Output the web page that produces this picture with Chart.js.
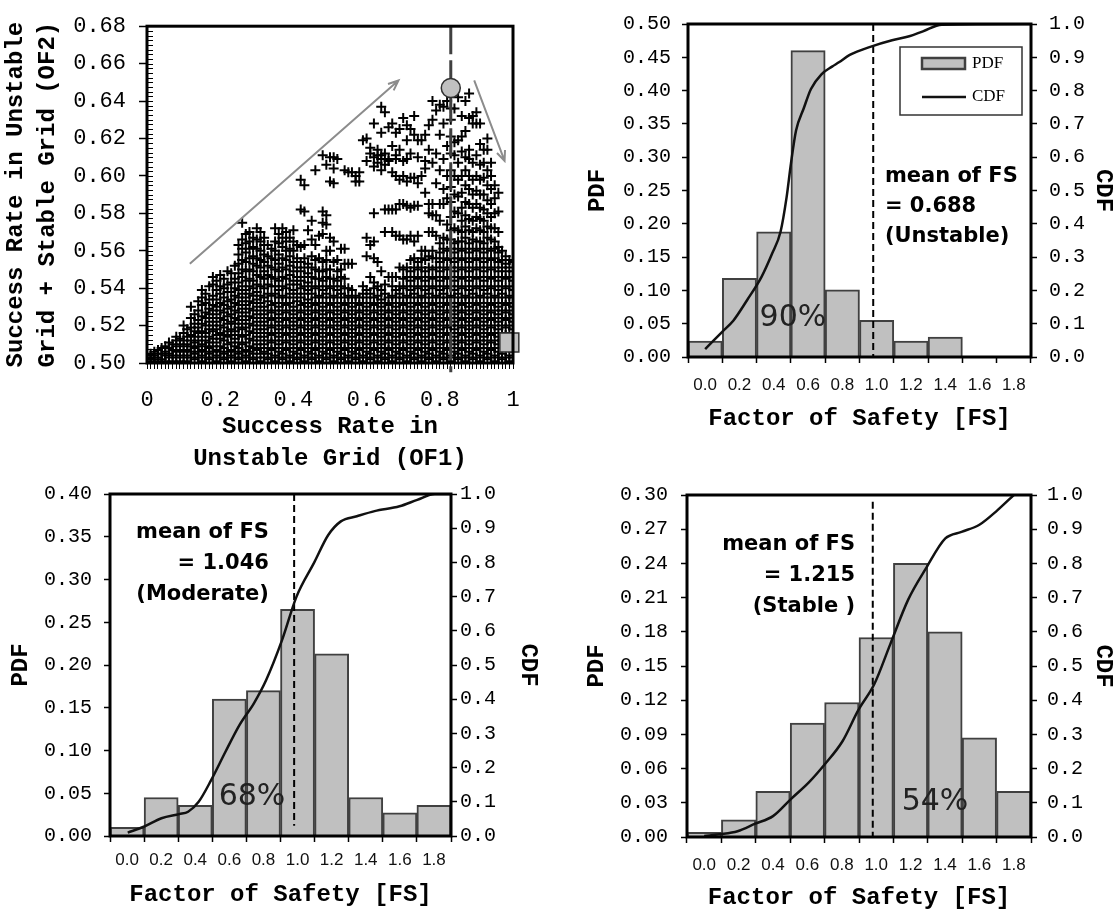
<!DOCTYPE html>
<html>
<head>
<meta charset="utf-8">
<title>Factor of safety distributions</title>
<script src="https://cdn.jsdelivr.net/npm/chart.js@4.4.1/dist/chart.umd.min.js"></script>
<style>
body { margin: 0; background: #fff; }
#page { position: relative; width: 1115px; height: 911px; overflow: hidden; }
canvas { position: absolute; }
</style>
</head>
<body>
<div id="page">
<canvas id="scatter" width="560" height="480" style="left:0;top:0"></canvas>
<canvas id="unstable" width="555" height="440" style="left:560px;top:0"></canvas>
<canvas id="moderate" width="540" height="441" style="left:0;top:470px"></canvas>
<canvas id="stable" width="555" height="441" style="left:560px;top:470px"></canvas>
</div>
<script>
var monoFont = "'Liberation Mono', 'Courier New', monospace";
var sansFont = "'Liberation Sans', Arial, sans-serif";
var noteFont = "'DejaVu Sans', Verdana, sans-serif";

// ---- histogram data ----
var binLabels = ['0.0', '0.2', '0.4', '0.6', '0.8', '1.0', '1.2', '1.4', '1.6', '1.8'];

var pdfUnstable = [0.024, 0.118, 0.188, 0.460, 0.101, 0.055, 0.024, 0.030, 0, 0];
var pdfModerate = [0.010, 0.045, 0.036, 0.160, 0.170, 0.265, 0.213, 0.045, 0.027, 0.036];
var pdfStable = [0.004, 0.015, 0.040, 0.100, 0.118, 0.175, 0.240, 0.180, 0.087, 0.040];

// cdf curves: FS value / cumulative probability
var cdfUnstableFS = [0.0, 0.098, 0.164, 0.246, 0.328, 0.39, 0.44, 0.475, 0.50, 0.53, 0.575, 0.617, 0.678, 0.74, 0.78, 0.843, 0.967, 1.09, 1.19, 1.27, 1.38, 1.9];
var cdfUnstable = [0.024, 0.075, 0.109, 0.172, 0.24, 0.31, 0.377, 0.48, 0.58, 0.68, 0.747, 0.805, 0.849, 0.872, 0.885, 0.907, 0.932, 0.951, 0.963, 0.978, 0.998, 1.0];

var cdfModerateFS = [0.004, 0.098, 0.202, 0.306, 0.358, 0.42, 0.494, 0.578, 0.66, 0.744, 0.816, 0.91, 0.994, 1.098, 1.18, 1.254, 1.348, 1.452, 1.598, 1.702, 1.806, 1.9];
var cdfModerate = [0.01, 0.027, 0.052, 0.064, 0.071, 0.10, 0.164, 0.247, 0.325, 0.388, 0.456, 0.574, 0.70, 0.80, 0.88, 0.92, 0.935, 0.95, 0.964, 0.983, 1.0, 1.0];

var cdfStableFS = [0.0, 0.09, 0.194, 0.297, 0.40, 0.504, 0.607, 0.70, 0.804, 0.896, 0.99, 1.082, 1.186, 1.29, 1.402, 1.496, 1.6, 1.704, 1.8];
var cdfStable = [0.003, 0.008, 0.017, 0.039, 0.061, 0.111, 0.159, 0.212, 0.28, 0.371, 0.448, 0.564, 0.694, 0.786, 0.873, 0.892, 0.913, 0.955, 1.0];

var fsLimit = 0.98;        // dashed FS line
var meanUnstable = ['mean of FS', '= 0.688', '(Unstable)'];
var meanModerate = ['mean of FS', '= 1.046', '(Moderate)'];
var meanStable = ['mean of FS', '= 1.215', '(Stable )'];

// ---- scatter data: OF1 column (x100) -> OF2 values (x1000) ----
var scatterCols = [
  [0, [500,502,504]], [1, [501,503,505]], [2, [500,502,504,506]], [3, [501,503,505,507]],
  [4, [500,502,505,508]], [5, [501,504,506,509]], [6, [500,503,505,508,511]], [7, [501,504,507,510]],
  [8, [500,503,506,509,512,514]], [9, [501,504,507,510,513]], [10, [500,503,506,509,512,516,520]],
  [11, [501,504,507,510,514,518]], [12, [500,503,506,509,512,515,519,524,530]],
  [13, [502,505,508,511,514,517,521,526]], [14, [500,503,506,509,512,516,519,523,528,533]],
  [15, [501,504,507,510,514,517,521,525,531,535,539]], [16, [500,503,506,509,512,516,520,524,527,532,537]],
  [17, [502,505,508,511,514,518,522,526,529,534,541]], [18, [500,503,506,509,513,517,520,524,528,531,536,542,546]],
  [19, [501,504,507,511,515,518,522,526,530,534,539,544]], [20, [500,503,506,509,513,516,520,524,528,532,537,541,547]],
  [21, [502,505,508,512,515,519,523,527,531,535,540,545]], [22, [500,503,506,510,514,517,521,525,529,533,538,542,549]],
  [23, [501,504,507,511,515,518,522,526,530,534,538,543,548]], [24, [500,503,506,509,513,517,521,524,528,532,536,540,545,552]],
  [25, [502,505,508,511,515,519,523,527,531,535,539,543,548,553,558,563]],
  [26, [500,503,506,510,514,518,521,525,529,533,537,541,546,550,555,561,566,575]],
  [27, [501,504,507,511,515,519,523,527,531,535,539,544,549,554,559,564,569]],
  [28, [500,503,506,509,513,517,521,525,529,533,537,541,545,550,556,561,565,570]],
  [29, [502,505,508,512,516,520,524,528,532,536,540,544,549,553,557,562,567]],
  [30, [500,503,507,510,514,518,522,526,530,534,538,542,547,552,556,561,566,572]],
  [31, [501,505,508,512,516,520,524,528,532,536,541,546,551,555,560,565,570]],
  [32, [500,503,506,510,514,518,522,526,530,535,540,545,549,554,558,563,567]],
  [33, [502,505,508,512,516,520,524,528,533,537,542,547,552,557,563]],
  [34, [500,503,507,511,515,519,523,527,531,536,541,546,551,556,561]],
  [35, [501,504,508,512,516,520,524,528,532,537,541,545,550,555,560,565,572]],
  [36, [500,503,506,510,514,518,522,526,530,535,539,544,549,553,558,564,569]],
  [37, [502,505,508,512,516,520,524,528,532,536,541,546,551,556,562,567,572]],
  [38, [500,503,507,511,515,519,523,527,531,535,540,545,550,555,560,565,570]],
  [39, [501,504,508,512,516,520,524,528,532,537,542,547,552,557,561,567]],
  [40, [500,503,506,510,514,518,522,526,530,535,539,544,549,554,560,565,571]],
  [41, [502,505,508,512,516,520,524,528,533,537,542,546,551,556,563]],
  [42, [500,503,507,511,515,519,523,527,531,535,540,544,549,554,562,582,598]],
  [43, [501,504,508,512,516,520,524,528,532,537,541,546,551,556,563,581,595]],
  [44, [500,503,506,510,514,518,522,526,530,534,539,543,548,553,571]],
  [45, [502,505,508,512,516,520,524,528,532,537,541,546,551,557,566,576]],
  [46, [500,503,507,511,515,519,523,527,531,535,540,545,550,555,563,603]],
  [47, [501,504,508,512,516,520,524,528,532,536,541,545,549,556,568]],
  [48, [500,503,506,510,514,518,522,526,530,535,539,544,549,554,569,575,581,611]],
  [49, [502,505,508,512,516,520,524,528,532,537,541,546,550,555,560,574,579,606]],
  [50, [500,503,507,511,515,519,523,527,531,535,540,545,550,560,567,597,610]],
  [51, [501,504,508,512,516,520,524,528,532,536,541,545,554,565,596,604,610]],
  [52, [500,503,506,510,514,518,522,526,530,535,539,544,549,555,609]],
  [53, [502,505,508,512,516,520,524,528,532,537,541,546,550,561]],
  [54, [500,503,507,511,515,519,523,527,531,535,540,545,553,561,603]],
  [55, [501,504,508,512,516,520,524,528,532,536,540,553,602]],
  [56, [500,503,506,510,514,518,522,526,530,535,539,553,602]],
  [57, [502,505,508,512,516,520,524,528,532,536,597,600]],
  [58, [500,503,507,511,515,519,523,527,531,535,597,602]],
  [59, [501,504,508,512,516,520,524,528,532,537,541,619]],
  [60, [500,503,506,510,514,518,522,526,530,535,539,557,567,608,620]],
  [61, [502,505,508,512,516,520,524,528,532,537,546,563,612,615]],
  [62, [500,503,507,511,515,519,523,527,531,535,540,543,556,565,580,605,610,628]],
  [63, [501,504,508,512,516,520,524,528,532,536,541,554,607,611,614]],
  [64, [500,503,506,510,514,518,522,526,530,534,539,549,603,609,611,623,637]],
  [65, [502,505,508,512,516,520,524,528,532,537,542,570,582,606,612,634]],
  [66, [500,503,507,511,515,519,523,527,531,535,546,582,608,609,626]],
  [67, [501,504,508,512,516,520,524,528,532,536,541,546,570,582,602,616,628]],
  [68, [500,503,506,510,514,518,522,526,530,535,539,546,568,582,600,609,611,623]],
  [69, [502,505,508,512,516,520,524,528,532,537,541,551,568,585,598,614,625]],
  [70, [500,503,507,511,515,519,523,527,531,535,540,545,550,566,585,600,608,631]],
  [71, [501,504,508,512,516,520,524,528,532,536,541,546,551,566,584,597,609,619,627]],
  [72, [500,503,506,510,514,518,522,526,530,535,539,544,549,555,568,583,599,612,625]],
  [73, [502,505,508,512,516,520,524,528,532,537,541,546,551,556,565,584,599,622,632]],
  [74, [500,503,507,511,515,519,523,527,531,535,540,545,550,554,568,584,596,610,619]],
  [75, [501,504,508,512,516,520,524,528,532,536,541,546,551,556,560,600,619]],
  [76, [500,503,506,510,514,518,522,526,530,535,539,544,549,555,560,591,604,608,622]],
  [77, [502,505,508,512,516,520,524,528,532,537,541,546,551,557,570,580,585,614,627]],
  [78, [500,503,507,511,515,519,523,527,531,535,540,545,550,556,560,570,579,585,607,630,640]],
  [79, [501,504,508,512,516,520,524,528,532,536,541,546,551,556,568,579,596,612,635]],
  [80, [500,503,506,510,514,518,522,526,530,535,539,544,549,554,559,564,576,585,603,622,638]],
  [81, [502,505,508,512,516,520,524,528,532,537,541,546,551,556,561,567,585,593,609,628,637]],
  [82, [500,503,507,511,515,519,523,527,531,535,540,545,550,555,560,566,574,588,600,616,640]],
  [83, [501,504,508,512,516,520,524,528,532,536,541,546,551,556,561,566,571,578,586,594,603,612,621,630,636]],
  [84, [500,503,506,510,514,518,522,526,530,535,539,544,549,554,559,564,572,581,590,600,611,618,636]],
  [85, [502,505,508,512,516,520,524,528,532,537,541,546,551,556,561,565,571,580,589,598,607,619,642]],
  [86, [500,503,507,511,515,519,523,527,531,535,540,545,550,555,560,565,570,576,583,591,600,613,621,632]],
  [87, [501,504,508,512,516,520,524,528,532,536,541,546,551,556,561,567,573,579,586,595,603,610,624,640]],
  [88, [500,503,506,510,514,518,522,526,530,535,539,544,549,554,559,564,571,577,585,593,600,609,614,631,644]],
  [89, [502,505,508,512,516,520,524,528,532,537,541,546,551,556,561,566,570,576,583,590,598,607,628,632]],
  [90, [500,503,507,511,515,519,523,527,531,535,540,545,550,555,560,565,572,578,585,592,600,611,628,634]],
  [91, [501,504,508,512,516,520,524,528,532,536,541,546,551,556,561,565,571,577,583,590,598,606,617,628]],
  [92, [500,503,506,510,514,518,522,526,530,535,539,544,549,554,559,564,570,576,582,590,599,607,614]],
  [93, [502,505,508,512,516,520,524,528,532,537,541,546,551,556,561,567,573,580,587,595,603,614,620]],
  [94, [500,503,507,511,515,519,523,527,531,535,540,545,550,555,560,566,572,578,585,593,600,607]],
  [95, [501,504,508,512,516,520,524,528,532,536,541,546,551,556,561,565,572,580,588,595]],
  [96, [500,503,506,510,514,518,522,526,530,535,539,544,549,554,559,562,570,581,591]],
  [97, [502,505,508,512,516,520,524,528,532,537,541,546,551,555,560]],
  [98, [500,503,507,511,515,519,523,527,531,535,540,545,549,553,557]],
  [99, [501,504,508,512,516,520,524,528,532,536,541,546,551,555]],
  [100, [500,503,506,510,514,518,522,526,530,535,539,544,549,554]]
];
var bestPoint = [{x: 0.83, y: 0.647}];
var cornerPoint = [{x: 0.99, y: 0.511}];
var bestLine = [{x: 0.83, y: 0.68}, {x: 0.83, y: 0.495}];
var trendArrows = [[0.117, 0.553, 0.687, 0.651], [0.894, 0.651, 0.977, 0.608]];

var scatterPts = [];
scatterCols.forEach(function(col) {
  col[1].forEach(function(v) { scatterPts.push({x: col[0] / 100, y: v / 1000}); });
});

Chart.defaults.animation = false;
Chart.defaults.color = '#000';
Chart.defaults.plugins.legend.display = false;
Chart.defaults.plugins.tooltip.enabled = false;

// thick box round the plot area
var framePlugin = {
  id: 'frame',
  afterDatasetsDraw: function(chart) {
    var a = chart.chartArea, ctx = chart.ctx;
    ctx.save();
    ctx.strokeStyle = '#000';
    ctx.lineWidth = 3;
    ctx.strokeRect(a.left, a.top, a.right - a.left, a.bottom - a.top);
    ctx.restore();
  }
};

// text notes, arrows, minor ticks and the boxed legend
var notesPlugin = {
  id: 'notes',
  afterDraw: function(chart, args, opts) {
    var ctx = chart.ctx, a = chart.chartArea;
    (opts.texts || []).forEach(function(t) {
      var x = chart.scales[t.xAxis].getPixelForValue(t.x);
      var y = chart.scales[t.yAxis].getPixelForValue(t.y);
      ctx.save();
      ctx.font = t.font;
      ctx.fillStyle = t.color || '#000';
      ctx.textAlign = t.align;
      ctx.textBaseline = 'middle';
      t.lines.forEach(function(line, i) { ctx.fillText(line, x, y + i * (t.gap || 0)); });
      ctx.restore();
    });

    (opts.arrows || []).forEach(function(ar) {
      var xs = chart.scales.x, ys = chart.scales.y;
      var x1 = xs.getPixelForValue(ar[0]), y1 = ys.getPixelForValue(ar[1]);
      var x2 = xs.getPixelForValue(ar[2]), y2 = ys.getPixelForValue(ar[3]);
      var ang = Math.atan2(y2 - y1, x2 - x1), head = 11;
      ctx.save();
      ctx.strokeStyle = '#8c8c8c';
      ctx.lineWidth = 2;
      ctx.beginPath();
      ctx.moveTo(x1, y1);
      ctx.lineTo(x2, y2);
      ctx.moveTo(x2 - head * Math.cos(ang - 0.4), y2 - head * Math.sin(ang - 0.4));
      ctx.lineTo(x2, y2);
      ctx.lineTo(x2 - head * Math.cos(ang + 0.4), y2 - head * Math.sin(ang + 0.4));
      ctx.stroke();
      ctx.restore();
    });

    if (opts.minorY) {
      var ys = chart.scales.y;
      ctx.save();
      ctx.strokeStyle = '#000';
      ctx.lineWidth = 1;
      ctx.beginPath();
      for (var v = ys.min; v <= ys.max + 1e-9; v += opts.minorY) {
        var py = Math.round(ys.getPixelForValue(v)) + 0.5;
        ctx.moveTo(a.left, py);
        ctx.lineTo(a.left + 6, py);
      }
      ctx.stroke();
      ctx.restore();
    }

    if (opts.legend) {
      var bars = chart.data.datasets[2], line = chart.data.datasets[0];
      var bx = a.right - 131, by = a.top + 23;
      ctx.save();
      ctx.fillStyle = '#fff';
      ctx.fillRect(bx, by, 122, 68);
      ctx.strokeStyle = '#333';
      ctx.lineWidth = 1.5;
      ctx.strokeRect(bx, by, 122, 68);
      ctx.fillStyle = bars.backgroundColor;
      ctx.fillRect(bx + 22, by + 11, 43, 11);
      ctx.strokeStyle = bars.borderColor;
      ctx.lineWidth = 2.5;
      ctx.strokeRect(bx + 22, by + 11, 43, 11);
      ctx.strokeStyle = line.borderColor;
      ctx.lineWidth = 2.5;
      ctx.beginPath();
      ctx.moveTo(bx + 22, by + 50);
      ctx.lineTo(bx + 66, by + 50);
      ctx.stroke();
      ctx.fillStyle = '#000';
      ctx.font = "17px 'Liberation Serif', 'Times New Roman', serif";
      ctx.textBaseline = 'middle';
      ctx.fillText(bars.label, bx + 72, by + 17);
      ctx.fillText(line.label, bx + 72, by + 50);
      ctx.restore();
    }
  }
};

function pairs(xs, ys) {
  return xs.map(function(x, i) { return {x: x, y: ys[i]}; });
}

// one PDF/CDF histogram panel
function drawHist(id, pdf, cdfFS, cdf, dashEnds, pdfMax, pdfStep, lay, texts, legend) {
  new Chart(document.getElementById(id), {
    type: 'bar',
    data: {
      labels: binLabels,
      datasets: [{
        type: 'line', label: 'CDF', data: pairs(cdfFS, cdf),
        xAxisID: 'xf', yAxisID: 'yc', borderColor: '#111', borderWidth: 2.5,
        pointRadius: 0, cubicInterpolationMode: 'monotone', order: 0
      }, {
        type: 'line', label: 'FS limit',
        data: [{x: fsLimit, y: dashEnds[0]}, {x: fsLimit, y: dashEnds[1]}],
        xAxisID: 'xf', yAxisID: 'yc', borderColor: '#000', borderWidth: 2,
        borderDash: [7, 4], pointRadius: 0, order: 1
      }, {
        type: 'bar', label: 'PDF', data: pdf, xAxisID: 'x', yAxisID: 'y',
        backgroundColor: '#c0c0c0', borderColor: '#404040', borderWidth: 2,
        barPercentage: 1, categoryPercentage: 1, grouped: false, order: 2
      }]
    },
    options: {
      responsive: false,
      layout: {padding: {top: lay.top, left: 0, right: 0, bottom: 0}},
      scales: {
        x: {
          type: 'category', offset: true, border: {display: false},
          grid: {offset: true, drawOnChartArea: false, tickLength: 6, tickColor: '#000', tickWidth: 1.5},
          ticks: {font: {family: sansFont, size: 17}, color: '#111', padding: lay.xPad, maxRotation: 0},
          title: {display: true, text: 'Factor of Safety [FS]', font: {family: monoFont, size: 24, weight: 'bold', lineHeight: 1},
                  padding: {top: 0, bottom: lay.titleBottom}},
          afterFit: function(s) { s.height = lay.xHeight; }
        },
        xf: {type: 'linear', display: false, offset: false, min: -0.1, max: 1.9},
        y: {
          position: 'left', min: 0, max: pdfMax, border: {display: false},
          grid: {drawOnChartArea: false, tickLength: 6, tickColor: '#000', tickWidth: 1.5},
          ticks: {stepSize: pdfStep, font: {family: monoFont, size: 20}, padding: lay.yPad,
                  callback: function(v) { return v.toFixed(2); }},
          title: {display: true, text: 'PDF', font: {family: monoFont, size: 24, weight: 'bold', lineHeight: 1},
                  padding: {top: lay.pdfTitle, bottom: 0}},
          afterFit: function(s) { s.width = lay.left; }
        },
        yc: {
          position: 'right', min: 0, max: 1, border: {display: false},
          grid: {drawOnChartArea: false, tickLength: 6, tickColor: '#000', tickWidth: 1.5},
          ticks: {stepSize: 0.1, font: {family: monoFont, size: 20}, padding: lay.ycPad,
                  callback: function(v) { return v.toFixed(1); }},
          title: {display: true, text: 'CDF', font: {family: monoFont, size: 24, weight: 'bold', lineHeight: 1},
                  padding: {top: lay.cdfTitle, bottom: 0}},
          afterFit: function(s) { s.width = lay.right; }
        }
      },
      plugins: {notes: {texts: texts, legend: legend}}
    },
    plugins: [framePlugin, notesPlugin]
  });
}

var meanFont = 'bold 21px ' + noteFont;
var pctFont = '30px ' + noteFont;

drawHist('unstable', pdfUnstable, cdfUnstableFS, cdfUnstable, [1.0, 0.0], 0.5, 0.05,
  {top: 18, left: 128, right: 84, xHeight: 83, xPad: 12, titleBottom: 9, yPad: 11, ycPad: 12, pdfTitle: 26, cdfTitle: 0},
  [{lines: meanUnstable, x: 1.048, y: 0.543, xAxis: 'xf', yAxis: 'yc', align: 'left', font: meanFont, gap: 30},
   {lines: ['90%'], x: 0.512, y: 0.118, xAxis: 'xf', yAxis: 'yc', align: 'center', font: pctFont, color: '#222'}],
  true);

drawHist('moderate', pdfModerate, cdfModerateFS, cdfModerate, [1.0, 0.03], 0.4, 0.05,
  {top: 24, left: 110, right: 89, xHeight: 75, xPad: 8, titleBottom: 4, yPad: 12, ycPad: 3, pdfTitle: 9, cdfTitle: 0},
  [{lines: meanModerate, x: 0.832, y: 0.886, xAxis: 'xf', yAxis: 'yc', align: 'right', font: meanFont, gap: 31},
   {lines: ['68%'], x: 0.733, y: 0.114, xAxis: 'xf', yAxis: 'yc', align: 'center', font: pctFont, color: '#222'}],
  false);

drawHist('stable', pdfStable, cdfStableFS, cdfStable, [0.98, 0.0], 0.3, 0.03,
  {top: 23, left: 127, right: 84, xHeight: 74, xPad: 12, titleBottom: 1, yPad: 13, ycPad: 10, pdfTitle: 25, cdfTitle: 0},
  [{lines: meanStable, x: 0.877, y: 0.855, xAxis: 'xf', yAxis: 'yc', align: 'right', font: meanFont, gap: 31},
   {lines: ['54%'], x: 1.342, y: 0.102, xAxis: 'xf', yAxis: 'yc', align: 'center', font: pctFont, color: '#222'}],
  false);

// ---- OF1 vs OF2 scatter ----
new Chart(document.getElementById('scatter'), {
  type: 'scatter',
  data: {
    datasets: [{
      label: 'chosen', data: bestPoint, pointStyle: 'circle', pointRadius: 9.5,
      pointBackgroundColor: '#c0c0c0', pointBorderColor: '#303030', pointBorderWidth: 1.5, clip: false, order: 0
    }, {
      label: 'corner', data: cornerPoint, pointStyle: 'rect', pointRadius: 13.4,
      pointBackgroundColor: '#c0c0c0', pointBorderColor: '#303030', pointBorderWidth: 1.5, clip: false, order: 1
    }, {
      label: 'best OF1', data: bestLine, showLine: true, borderColor: '#404040', borderWidth: 3,
      borderDash: [28, 6], pointRadius: 0, clip: false, order: 2
    }, {
      label: 'runs', data: scatterPts, pointStyle: 'cross', pointRadius: 5,
      pointBorderColor: '#000', pointBorderWidth: 2, order: 3
    }]
  },
  options: {
    responsive: false,
    layout: {padding: {top: 22, right: 47, left: 0, bottom: 0}},
    scales: {
      x: {
        min: 0, max: 1, border: {display: false},
        grid: {drawOnChartArea: false, tickLength: 6, tickColor: '#000', tickWidth: 1},
        ticks: {
          stepSize: 0.01, autoSkip: false, maxRotation: 0, minRotation: 0, padding: 18,
          font: {family: monoFont, size: 22},
          callback: function(v) {
            if (Math.abs(v * 5 - Math.round(v * 5)) > 1e-6) return '';
            if (v < 1e-6) return '0';
            if (v > 1 - 1e-6) return '1';
            return v.toFixed(1);
          }
        },
        title: {display: true, text: ['Success Rate in', 'Unstable Grid (OF1)'],
                font: {family: monoFont, size: 24, weight: 'bold', lineHeight: 32 / 24},
                padding: {top: 0, bottom: 5}},
        afterFit: function(s) { s.height = 117; }
      },
      y: {
        min: 0.5, max: 0.68, border: {display: false},
        grid: {drawOnChartArea: false, tickLength: 8, tickColor: '#000', tickWidth: 1.5},
        ticks: {stepSize: 0.02, padding: 13, font: {family: monoFont, size: 22},
                callback: function(v) { return v.toFixed(2); }},
        title: {display: true, text: ['Success Rate in Unstable', 'Grid + Stable Grid (OF2)'],
                font: {family: monoFont, size: 24, weight: 'bold', lineHeight: 32 / 24},
                padding: {top: 0, bottom: 0}},
        afterFit: function(s) { s.width = 147; }
      }
    },
    plugins: {notes: {arrows: trendArrows, minorY: 0.0025}}
  },
  plugins: [framePlugin, notesPlugin]
});
</script>
</body>
</html>
